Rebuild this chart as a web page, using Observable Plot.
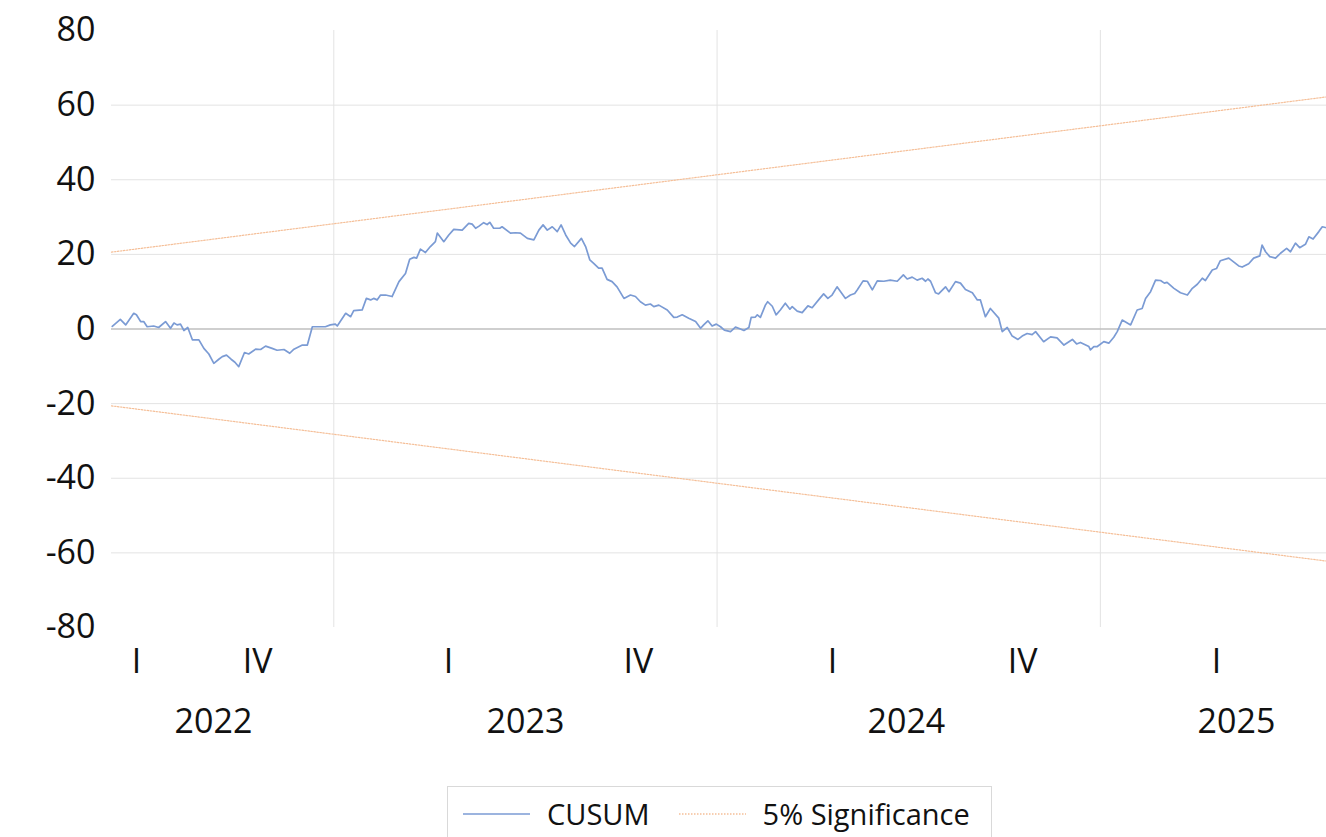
<!DOCTYPE html>
<html>
<head>
<meta charset="utf-8">
<script src="https://cdn.jsdelivr.net/npm/d3@7"></script>
<script src="https://cdn.jsdelivr.net/npm/@observablehq/plot@0.6"></script>
<style>
  html, body { margin: 0; padding: 0; background: #fff; }
  #wrap { position: relative; width: 1326px; height: 837px; overflow: hidden; font-family: "Open Sans", sans-serif; }
  #legend { position: absolute; left: 447px; top: 786px; width: 545px; height: 60px; border: 1px solid #d9d9d9; box-sizing: border-box;
            display: flex; align-items: flex-start; padding-top: 7px; padding-left: 15px; font-size: 29px; color: #111; }
  .item { display: flex; align-items: center; }
  .sw { width: 67px; height: 6px; margin-right: 17px; display: block; }
</style>
</head>
<body>
<div id="wrap">
  <div id="chart"></div>
  <div id="legend">
    <div class="item"><svg class="sw" width="67" height="6"><line x1="0" x2="67" y1="3" y2="3" stroke="#7b9bd4" stroke-width="1.7"/></svg><span>CUSUM</span></div>
    <div class="item" style="margin-left:29px"><svg class="sw" width="67" height="6"><line x1="0" x2="67" y1="3" y2="3" stroke="#f5bf98" stroke-width="1.4" stroke-dasharray="1.5,1.5"/></svg><span>5% Significance</span></div>
  </div>
</div>
<script>
// CUSUM series (time as fractional year, value)
const cusumT = [
2022.422,2022.443,2022.457,2022.478,2022.485,2022.496,2022.504,2022.513,2022.530,2022.543,
2022.561,2022.574,2022.583,2022.591,2022.600,2022.609,2022.619,2022.631,2022.648,2022.661,
2022.674,2022.687,2022.700,2022.709,2022.720,2022.732,2022.742,2022.752,2022.767,2022.778,
2022.796,2022.809,2022.822,2022.839,2022.852,2022.870,2022.885,2022.896,2022.918,2022.931,
2022.944,2022.965,2022.978,2022.991,2023.004,2023.009,2023.031,2023.044,2023.052,2023.074,
2023.085,2023.096,2023.104,2023.113,2023.122,2023.135,2023.152,2023.170,2023.187,2023.198,
2023.209,2023.216,2023.226,2023.239,2023.252,2023.265,2023.270,2023.287,2023.300,2023.313,
2023.335,2023.352,2023.361,2023.370,2023.378,2023.391,2023.400,2023.407,2023.417,2023.433,
2023.439,2023.461,2023.474,2023.487,2023.505,2023.522,2023.535,2023.546,2023.557,2023.570,
2023.583,2023.593,2023.605,2023.618,2023.628,2023.646,2023.657,2023.668,2023.678,2023.691,
2023.700,2023.713,2023.726,2023.739,2023.757,2023.774,2023.787,2023.800,2023.813,2023.826,
2023.835,2023.848,2023.870,2023.887,2023.896,2023.909,2023.926,2023.944,2023.957,2023.965,
2023.976,2023.987,2023.998,2024.009,2024.019,2024.035,2024.048,2024.061,2024.070,2024.083,
2024.089,2024.100,2024.105,2024.113,2024.126,2024.132,2024.144,2024.154,2024.165,2024.178,
2024.190,2024.196,2024.209,2024.222,2024.237,2024.248,2024.268,2024.278,2024.289,2024.300,
2024.313,2024.335,2024.348,2024.359,2024.366,2024.381,2024.392,2024.405,2024.418,2024.435,
2024.452,2024.470,2024.486,2024.496,2024.509,2024.522,2024.535,2024.544,2024.550,2024.557,
2024.570,2024.578,2024.596,2024.605,2024.622,2024.635,2024.648,2024.666,2024.679,2024.687,
2024.700,2024.713,2024.735,2024.744,2024.757,2024.770,2024.785,2024.796,2024.809,2024.822,
2024.831,2024.852,2024.870,2024.887,2024.905,2024.927,2024.938,2024.948,2024.970,2024.974,
2024.983,2024.992,2025.009,2025.022,2025.035,2025.044,2025.057,2025.079,2025.096,2025.109,
2025.118,2025.131,2025.144,2025.157,2025.167,2025.174,2025.192,2025.209,2025.227,2025.240,
2025.253,2025.266,2025.274,2025.292,2025.303,2025.313,2025.335,2025.361,2025.370,2025.387,
2025.400,2025.416,2025.422,2025.431,2025.442,2025.457,2025.470,2025.486,2025.496,2025.509,
2025.520,2025.535,2025.544,2025.555,2025.570,2025.579,2025.587
];
const cusumV = [
0.7,2.6,1.1,4.2,3.8,2.0,2.0,0.6,0.8,0.4,
2.0,0.2,1.6,1.1,1.3,-0.4,0.4,-2.9,-2.9,-5.2,
-6.7,-9.2,-8.1,-7.4,-7.0,-8.1,-8.9,-10.1,-6.3,-6.7,
-5.4,-5.5,-4.6,-5.2,-5.7,-5.5,-6.5,-5.4,-4.3,-4.3,
0.6,0.6,0.6,1.1,1.3,0.8,4.2,3.3,4.9,5.1,
8.2,7.8,8.2,7.8,9.1,9.1,8.7,12.7,14.9,18.7,
19.2,19.0,21.4,20.5,22.1,23.4,25.7,23.4,25.2,26.7,
26.5,28.3,28.1,27.0,27.5,28.5,28.0,28.6,27.0,27.0,
27.4,25.7,25.8,25.7,24.3,23.9,26.5,27.9,26.5,27.4,
26.1,27.9,25.2,23.0,22.1,24.3,22.1,18.5,17.6,16.3,
16.3,13.3,12.7,11.3,8.2,9.1,8.7,7.3,6.4,6.7,
6.0,6.4,5.1,3.1,3.2,3.8,2.9,2.0,0.2,1.1,
2.2,0.8,1.3,0.6,-0.3,-0.7,0.5,0.0,-0.4,0.4,
3.1,3.2,3.8,3.1,6.4,7.3,6.1,3.8,5.1,6.9,
5.3,6.0,4.8,4.4,6.2,5.7,8.2,9.4,8.2,9.1,
11.3,8.2,9.1,9.5,10.5,12.9,12.8,10.5,12.9,12.8,
13.1,12.8,14.5,13.4,13.9,13.1,13.6,12.8,13.4,12.8,
9.7,9.4,11.3,10.0,12.7,12.3,10.6,9.7,7.8,7.8,
3.3,5.5,2.9,-0.7,0.4,-1.9,-2.8,-1.9,-1.2,-1.5,
-0.7,-3.4,-2.1,-2.4,-4.3,-2.8,-4.0,-3.6,-4.7,-5.6,
-4.7,-4.7,-3.4,-3.8,-2.2,-0.7,2.4,1.1,5.1,5.5,
8.2,10.0,13.1,13.0,12.3,12.5,10.9,9.7,9.1,10.9,
12.0,13.6,13.0,15.8,16.2,18.3,19.0,16.9,16.6,17.5,
19.0,19.6,22.5,20.7,19.4,19.0,20.3,21.6,20.7,23.0,
21.8,22.7,24.7,24.1,26.1,27.4,27.2
];

// 5% significance bounds
const sigT = [2022.42, 2025.59];
const sigUpper = [20.6, 62.2];
const sigLower = [-20.6, -62.2];

// Axis ticks and labels
const yTicks = [-80, -60, -40, -20, 0, 20, 40, 60, 80];
const yGrid = [-60, -40, -20, 20, 40, 60];
const yearBreaks = [2023, 2024, 2025];
const quarterPos = [2022.485, 2022.801, 2023.299, 2023.795, 2024.301, 2024.797, 2025.303];
const quarterLabels = ["I", "IV", "I", "IV", "I", "IV", "I"];
const yearPos = [2022.686, 2023.500, 2024.494, 2025.355];
const yearLabels = ["2022", "2023", "2024", "2025"];

const H = 770;
const chart = Plot.plot({
  width: 1326,
  height: H,
  marginLeft: 111,
  marginRight: 0,
  marginTop: 30,
  marginBottom: H - 627,
  style: { fontFamily: "Open Sans, sans-serif", color: "#111", background: "#fff", overflow: "visible" },
  x: { domain: [2022.42, 2025.59], axis: null },
  y: { domain: [-80, 80], axis: null },
  marks: [
    Plot.ruleY(yGrid, { stroke: "#e3e3e3", strokeWidth: 1 }),
    Plot.ruleX(yearBreaks, { y1: -80, y2: 80, stroke: "#e3e3e3", strokeWidth: 1 }),
    Plot.ruleY([0], { stroke: "#bfbfbf", strokeWidth: 1.5 }),
    Plot.line(sigUpper, { x: sigT, y: sigUpper, stroke: "#f5bf98", strokeWidth: 1.2, strokeDasharray: "1.5,1.5" }),
    Plot.line(sigLower, { x: sigT, y: sigLower, stroke: "#f5bf98", strokeWidth: 1.2, strokeDasharray: "1.5,1.5" }),
    Plot.line(cusumV, { x: cusumT, y: cusumV, stroke: "#7b9bd4", strokeWidth: 1.7, curve: "linear" }),
    Plot.axisY({ ticks: yTicks, tickSize: 0, tickPadding: 16, fontSize: 34, tickFormat: d => String(d) }),
    Plot.axisX({ ticks: quarterPos, tickSize: 0, tickPadding: 21, fontSize: 34, tickFormat: d => quarterLabels[quarterPos.indexOf(d)] }),
    Plot.axisX({ ticks: yearPos, tickSize: 0, tickPadding: 81, fontSize: 34, tickFormat: d => yearLabels[yearPos.indexOf(d)] })
  ]
});
document.getElementById("chart").appendChild(chart);
</script>
</body>
</html>
